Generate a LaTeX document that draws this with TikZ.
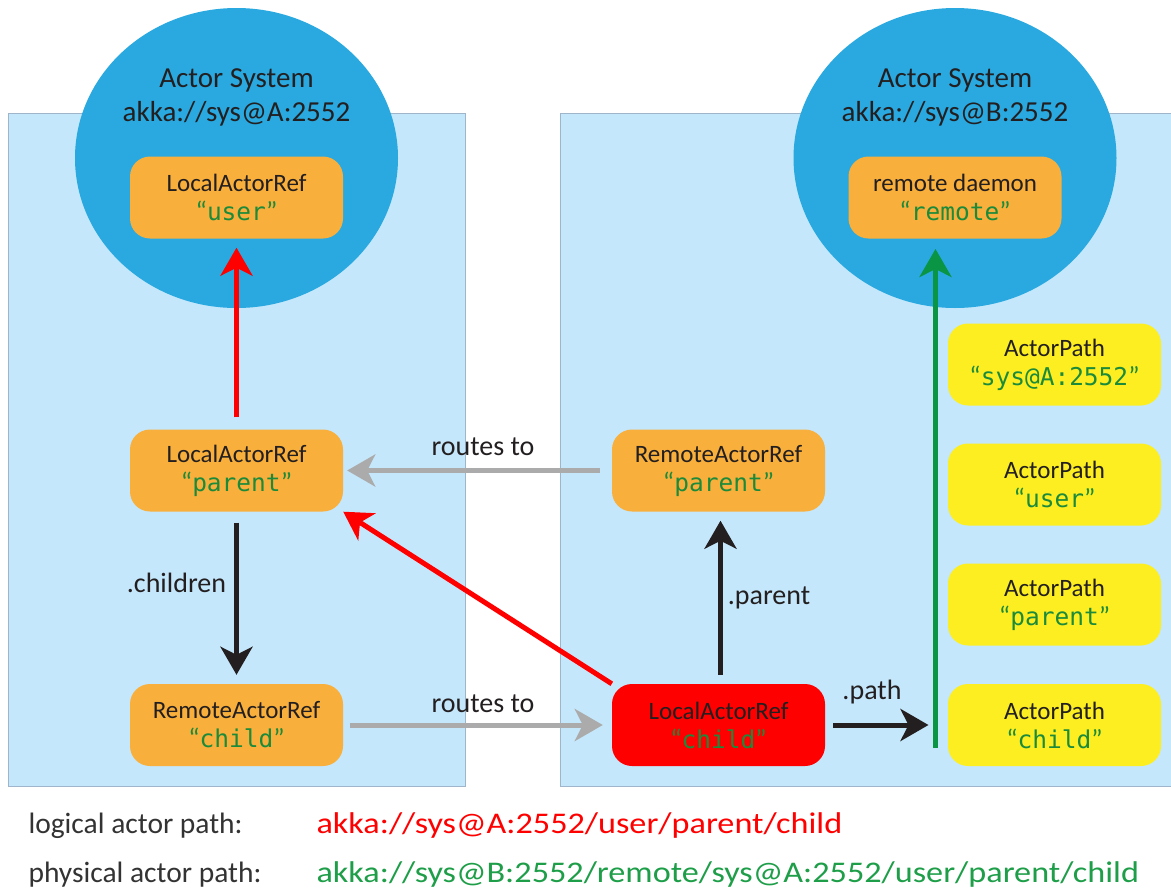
\documentclass[tikz,border=0pt]{standalone}
\usepackage{fontspec}
\setmainfont{Carlito}
\newfontfamily\monof{DejaVu Sans Mono}
\newfontfamily\widef[FakeStretch=1.14]{Carlito}
\usetikzlibrary{arrows.meta,shapes.geometric}
\definecolor{panel}{HTML}{C5E7FB}
\definecolor{panelline}{HTML}{9FB6CA}
\definecolor{sysblue}{HTML}{29A9E0}
\definecolor{orangebox}{HTML}{F9AF3B}
\definecolor{yellowbox}{HTML}{FCEE21}
\definecolor{idgreen}{HTML}{1B8A3A}
\definecolor{linegreen}{HTML}{0A9545}
\definecolor{pathgreen}{HTML}{1E9E48}
\definecolor{arrowgray}{HTML}{ABABAB}
\definecolor{inkblack}{HTML}{231F20}
\definecolor{redc}{HTML}{FF0000}
\definecolor{labelgray}{HTML}{333333}
\newcommand\actid[1]{{\color{idgreen}\fontsize{27}{29}\selectfont“{\monof\fontsize{24.5}{29}\selectfont #1}”}}
\tikzset{
  refbox/.style={rounded corners=20pt, minimum width=213pt, minimum height=82pt,
    inner sep=0pt, align=center, text=inkblack, font=\fontsize{25}{29}\selectfont},
  orangeref/.style={refbox, fill=orangebox},
  redref/.style={refbox, fill=redc},
  pathbox/.style={refbox, fill=yellowbox},
  sysnode/.style={ellipse, fill=sysblue, minimum width=323pt, minimum height=300pt, inner sep=0pt},
  systext/.style={anchor=base, text=inkblack, font=\fontsize{29}{32}\selectfont},
  edgelabel/.style={text=inkblack, font=\fontsize{28}{32}\selectfont},
  bigtip/.style={-{Stealth[length=28pt,width=32pt,inset=8pt]}},
  redarrow/.style={bigtip, draw=redc, line width=5pt},
  blackarrow/.style={bigtip, draw=inkblack, line width=5pt},
  grayarrow/.style={bigtip, draw=arrowgray, line width=5pt},
  greenarrow/.style={bigtip, draw=linegreen, line width=5pt},
  hostpanel/.style={fill=panel, draw=panelline, line width=1pt, anchor=north west, inner sep=0pt},
  footlabel/.style={anchor=base west, text=labelgray, font=\fontsize{29.5}{34}\selectfont},
  footpath/.style={anchor=base west, font=\widef\fontsize{30}{34}\selectfont},
}
\begin{document}
\begin{tikzpicture}[x=1pt,y=-1pt]
\useasboundingbox (0,0) rectangle (1171,892);
% host panels
\node[hostpanel, minimum width=457pt, minimum height=673pt] (hostA) at (8,113) {};
\node[hostpanel, minimum width=620pt, minimum height=673pt] (hostB) at (560,113) {};
% actor systems
\node[sysnode] (sysA) at (236.5,158) {};
\node[sysnode] (sysB) at (955,158) {};
\node[systext] (sysAt1) at (236.5,87) {Actor System};
\node[systext] (sysAt2) at (236.5,121) {akka://sys@A:2552};
\node[systext] (sysBt1) at (955,87) {Actor System};
\node[systext] (sysBt2) at (955,121) {akka://sys@B:2552};
% refs
\node[orangeref] (user) at (236.5,197.5) {LocalActorRef\\\actid{user}};
\node[orangeref] (remote) at (955,197.5) {remote daemon\\\actid{remote}};
\node[orangeref] (lparent) at (236.5,470.5) {LocalActorRef\\\actid{parent}};
\node[orangeref] (rchild) at (236.5,725) {RemoteActorRef\\\actid{child}};
\node[orangeref] (rparent) at (718.5,470.5) {RemoteActorRef\\\actid{parent}};
\node[redref] (lchild) at (718.5,725) {LocalActorRef\\\actid{child}};
% actor paths
\node[pathbox] (ap1) at (1054.5,364.5) {ActorPath\\\actid{sys@A:2552}};
\node[pathbox] (ap2) at (1054.5,484.5) {ActorPath\\\actid{user}};
\node[pathbox] (ap3) at (1054.5,604.5) {ActorPath\\\actid{parent}};
\node[pathbox] (ap4) at (1054.5,725) {ActorPath\\\actid{child}};
% connectors
\draw[redarrow, shorten <=12pt, shorten >=9pt] (lparent.north) -- (user.south);
\draw[redarrow] (lchild.north west) -- (lparent.south east);
\draw[blackarrow, shorten <=11pt, shorten >=9pt] (lparent.south) -- (rchild.north);
\draw[blackarrow, shorten <=9pt, shorten >=9pt] ([xshift=2pt]lchild.north) -- ([xshift=2pt]rparent.south);
\draw[grayarrow, shorten <=12pt, shorten >=4pt] (rparent.west) -- (lparent.east);
\draw[grayarrow, shorten <=7pt, shorten >=9pt] (rchild.east) -- (lchild.west);
\coordinate (gfoot) at (935.5,748);
\coordinate (gtip) at (935.5,249);
\draw[greenarrow] (gfoot) -- (gtip);
\draw[blackarrow, shorten <=8pt, shorten >=7pt] (lchild.east) -- (lchild.east -| gfoot);
% connector labels
\node[edgelabel] (l1) at (483,447) {routes to};
\node[edgelabel] (l2) at (483,704) {routes to};
\node[edgelabel] (l3) at (176.5,583) {.children};
\node[edgelabel] (l4) at (769,598) {.parent};
\node[edgelabel] (l5) at (872,692) {.path};
% footer
\node[footlabel] (f1) at (25,833) {logical actor path:};
\node[footpath, text=redc] (f2) at (313,833) {akka://sys@A:2552/user/parent/child};
\node[footlabel] (f3) at (25,882) {physical actor path:};
\node[footpath, text=pathgreen] (f4) at (313,882) {akka://sys@B:2552/remote/sys@A:2552/user/parent/child};
\end{tikzpicture}
\end{document}
